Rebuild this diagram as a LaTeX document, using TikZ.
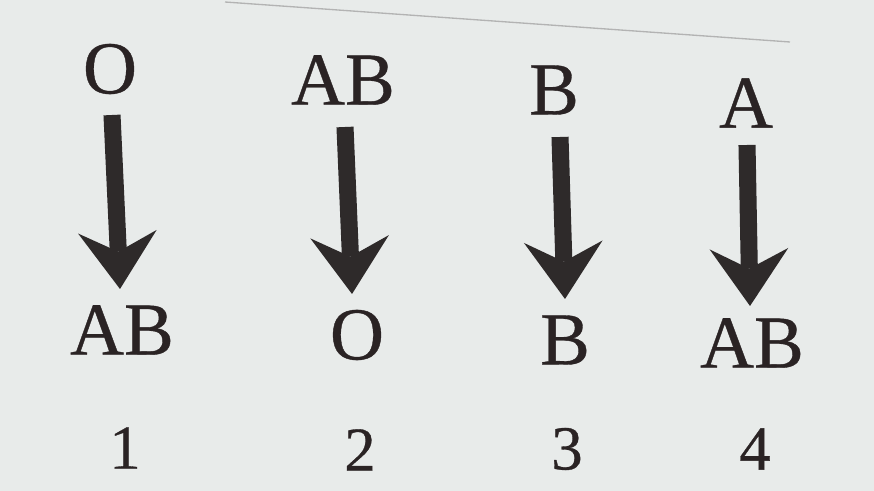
\documentclass[tikz,border=0pt]{standalone}
\usepackage{fontspec}
\setmainfont{Liberation Serif}[FakeBold=0.5]
\usetikzlibrary{arrows.meta}
\definecolor{bg}{HTML}{E8EBEA}
\definecolor{ink}{HTML}{2A2324}
\definecolor{arr}{HTML}{2E2A2A}
\tikzset{
  lbl/.style={inner sep=0pt, anchor=center, text=ink, font=\fontsize{56}{60}\selectfont},
  num/.style={inner sep=0pt, anchor=center, text=ink, font=\fontsize{47}{50}\selectfont},
  bigarr/.style={draw=arr, line width=12.8pt,
    -{Stealth[length=43pt, width=59pt, inset=15pt, line width=0pt, fill=arr]}},
}
\begin{document}
\begin{tikzpicture}[x=0.75pt, y=-0.75pt]
\fill[bg] (0,0) rectangle (874,491);
\useasboundingbox (0,0) rectangle (874,491);
\draw[gray!70, line width=1pt, opacity=0.8] (225,2) -- (790,42);
% column 1
\node[lbl] (t1) at (110,69) {O};
\node[lbl] (b1) at (122,330) {AB};
\node[num] (n1) at (125,448) {1};
\coordinate (s1) at (112,115);
\coordinate (e1) at (120,289);
\draw[bigarr] (s1) -- (e1);
% column 2
\node[lbl] (t2) at (343,80) {AB};
\node[lbl] (b2) at (357,335) {O};
\node[num] (n2) at (360,450) {2};
\coordinate (s2) at (345,127);
\coordinate (e2) at (352,294);
\draw[bigarr] (s2) -- (e2);
% column 3
\node[lbl] (t3) at (554,90) {B};
\node[lbl] (b3) at (565,340) {B};
\node[num] (n3) at (567,449) {3};
\coordinate (s3) at (560,137);
\coordinate (e3) at (565,299);
\draw[bigarr] (s3) -- (e3);
% column 4
\node[lbl] (t4) at (746,103) {A};
\node[lbl] (b4) at (752,343) {AB};
\node[num] (n4) at (755,449) {4};
\coordinate (s4) at (747,145);
\coordinate (e4) at (750,306);
\draw[bigarr] (s4) -- (e4);
\end{tikzpicture}
\end{document}
